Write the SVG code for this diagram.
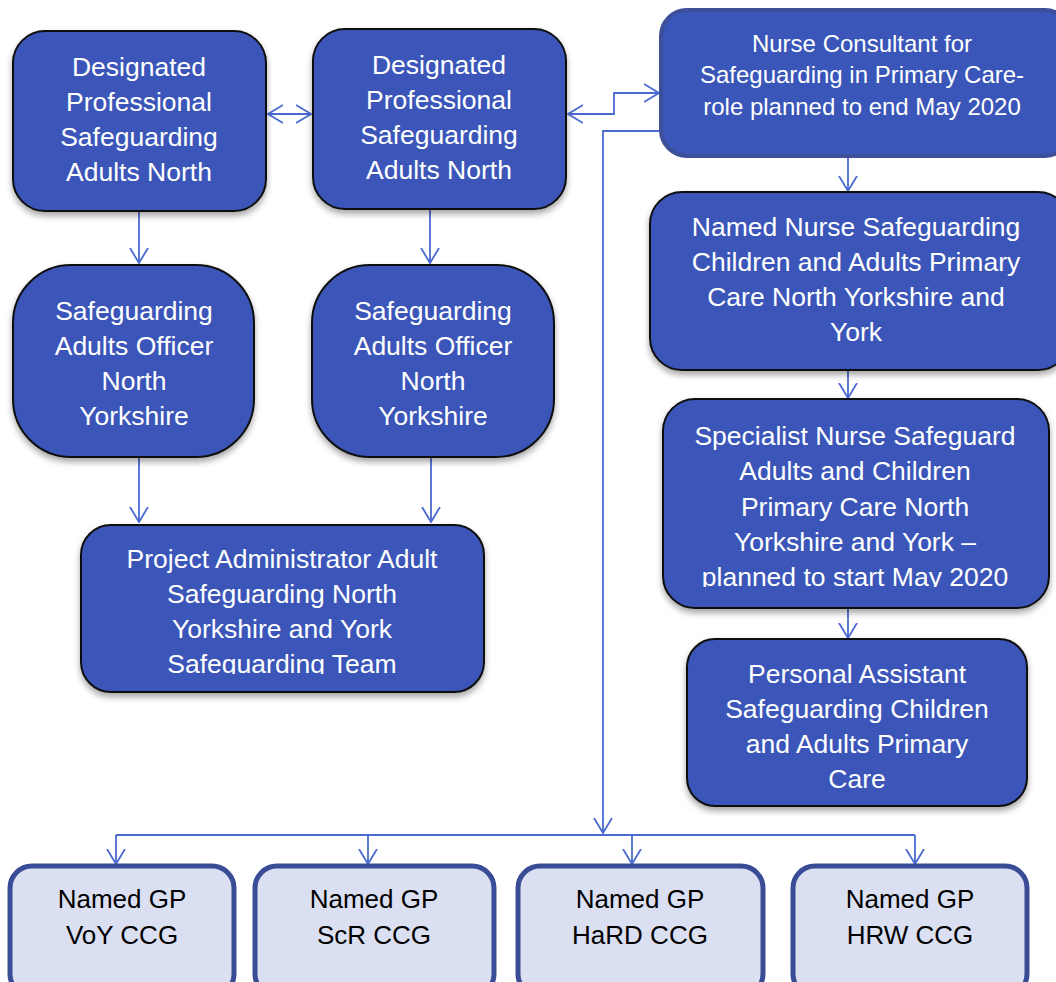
<svg xmlns="http://www.w3.org/2000/svg" width="1056" height="982" viewBox="0 0 1056 982">
<defs>
<style>
.b{fill:#3a56b8;stroke:#111;stroke-width:2;filter:url(#sh)}
.nc{fill:#3a56b8;stroke:#3c4f98;stroke-width:4}
.gp{fill:#dadff2;stroke:#3a4c96;stroke-width:5}
.t{font-family:"Liberation Sans",Arial,sans-serif;font-size:26.5px;fill:#fff;text-anchor:middle}
.t2{font-family:"Liberation Sans",Arial,sans-serif;font-size:24px;fill:#fff;text-anchor:middle}
.tg{font-family:"Liberation Sans",Arial,sans-serif;font-size:26px;fill:#000;text-anchor:middle}
.c{fill:none;stroke:#4a6ad0;stroke-width:1.8}
</style>
<filter id="sh" x="-10%" y="-10%" width="120%" height="130%">
<feDropShadow dx="0" dy="4" stdDeviation="3" flood-color="#000" flood-opacity="0.35"/>
</filter>
<marker id="a" markerUnits="userSpaceOnUse" viewBox="0 0 16 20" markerWidth="16" markerHeight="20" refX="15" refY="10" orient="auto-start-reverse">
<path d="M0,1 L15,10 L0,19" fill="none" stroke="#4a6ad0" stroke-width="1.8"/>
</marker>
<clipPath id="cp1"><rect x="0" y="0" width="1056" height="674"/></clipPath>
<clipPath id="cp2"><rect x="0" y="0" width="1056" height="587"/></clipPath>
<clipPath id="cp3"><rect x="0" y="0" width="1056" height="788"/></clipPath>
</defs>

<g id="connectors">
<line class="c" x1="268" y1="114" x2="311" y2="114" marker-start="url(#a)" marker-end="url(#a)"/>
<path class="c" d="M568,114 H614 V93 H659" marker-start="url(#a)" marker-end="url(#a)"/>
<path class="c" d="M660,131 H603 V833" marker-end="url(#a)"/>
<line class="c" x1="116" y1="835" x2="915" y2="835"/>
<line class="c" x1="116" y1="835" x2="116" y2="864" marker-end="url(#a)"/>
<line class="c" x1="368" y1="835" x2="368" y2="864" marker-end="url(#a)"/>
<line class="c" x1="632" y1="835" x2="632" y2="864" marker-end="url(#a)"/>
<line class="c" x1="915" y1="835" x2="915" y2="864" marker-end="url(#a)"/>
<line class="c" x1="139" y1="212" x2="139" y2="263" marker-end="url(#a)"/>
<line class="c" x1="430" y1="210" x2="430" y2="263" marker-end="url(#a)"/>
<line class="c" x1="139" y1="458" x2="139" y2="522" marker-end="url(#a)"/>
<line class="c" x1="431" y1="458" x2="431" y2="522" marker-end="url(#a)"/>
<line class="c" x1="848" y1="158" x2="848" y2="191" marker-end="url(#a)"/>
<line class="c" x1="848" y1="371" x2="848" y2="398" marker-end="url(#a)"/>
<line class="c" x1="848" y1="609" x2="848" y2="638" marker-end="url(#a)"/>
</g>

<g id="dp1">
<rect class="b" x="13" y="31" width="253" height="180" rx="32"/>
<text class="t" x="139" y="76">Designated</text>
<text class="t" x="139" y="111">Professional</text>
<text class="t" x="139" y="146">Safeguarding</text>
<text class="t" x="139" y="181">Adults North</text>
</g>
<g id="dp2">
<rect class="b" x="313" y="29" width="253" height="180" rx="32"/>
<text class="t" x="439" y="74">Designated</text>
<text class="t" x="439" y="109">Professional</text>
<text class="t" x="439" y="144">Safeguarding</text>
<text class="t" x="439" y="179">Adults North</text>
</g>
<g id="sao1">
<rect class="b" x="13" y="265" width="241" height="192" rx="58"/>
<text class="t" x="134" y="320">Safeguarding</text>
<text class="t" x="134" y="355">Adults Officer</text>
<text class="t" x="134" y="390">North</text>
<text class="t" x="134" y="425">Yorkshire</text>
</g>
<g id="sao2">
<rect class="b" x="312" y="265" width="242" height="192" rx="58"/>
<text class="t" x="433" y="320">Safeguarding</text>
<text class="t" x="433" y="355">Adults Officer</text>
<text class="t" x="433" y="390">North</text>
<text class="t" x="433" y="425">Yorkshire</text>
</g>
<g id="pa-admin">
<rect class="b" x="81" y="525" width="403" height="167" rx="30"/>
<g clip-path="url(#cp1)">
<text class="t" x="282" y="568">Project Administrator Adult</text>
<text class="t" x="282" y="603">Safeguarding North</text>
<text class="t" x="282" y="638">Yorkshire and York</text>
<text class="t" x="282" y="673">Safeguarding Team</text>
</g>
</g>
<g id="nurse-consultant">
<rect class="nc" x="661" y="10" width="410" height="146" rx="26"/>
<text class="t2" x="862" y="52">Nurse Consultant for</text>
<text class="t2" x="862" y="83">Safeguarding in Primary Care-</text>
<text class="t2" x="862" y="115">role planned to end May 2020</text>
</g>
<g id="named-nurse">
<rect class="b" x="650" y="192" width="420" height="178" rx="32"/>
<text class="t" x="856" y="236">Named Nurse Safeguarding</text>
<text class="t" x="856" y="271">Children and Adults Primary</text>
<text class="t" x="856" y="306">Care North Yorkshire and</text>
<text class="t" x="856" y="341">York</text>
</g>
<g id="specialist">
<rect class="b" x="663" y="399" width="386" height="209" rx="32"/>
<g clip-path="url(#cp2)">
<text class="t" x="855" y="445">Specialist Nurse Safeguard</text>
<text class="t" x="855" y="480">Adults and Children</text>
<text class="t" x="855" y="516">Primary Care North</text>
<text class="t" x="855" y="551">Yorkshire and York –</text>
<text class="t" x="855" y="586">planned to start May 2020</text>
</g>
</g>
<g id="pa">
<rect class="b" x="687" y="639" width="340" height="167" rx="28"/>
<g clip-path="url(#cp3)">
<text class="t" x="857" y="683">Personal Assistant</text>
<text class="t" x="857" y="718">Safeguarding Children</text>
<text class="t" x="857" y="753">and Adults Primary</text>
<text class="t" x="857" y="788">Care</text>
</g>
</g>
<g id="gp-voy">
<rect class="gp" x="10" y="866" width="224" height="130" rx="22"/>
<text class="tg" x="122" y="908">Named GP</text>
<text class="tg" x="122" y="944">VoY CCG</text>
</g>
<g id="gp-scr">
<rect class="gp" x="255" y="866" width="239" height="130" rx="22"/>
<text class="tg" x="374" y="908">Named GP</text>
<text class="tg" x="374" y="944">ScR CCG</text>
</g>
<g id="gp-hard">
<rect class="gp" x="518" y="866" width="245" height="130" rx="22"/>
<text class="tg" x="640" y="908">Named GP</text>
<text class="tg" x="640" y="944">HaRD CCG</text>
</g>
<g id="gp-hrw">
<rect class="gp" x="793" y="866" width="234" height="130" rx="22"/>
<text class="tg" x="910" y="908">Named GP</text>
<text class="tg" x="910" y="944">HRW CCG</text>
</g>
</svg>
